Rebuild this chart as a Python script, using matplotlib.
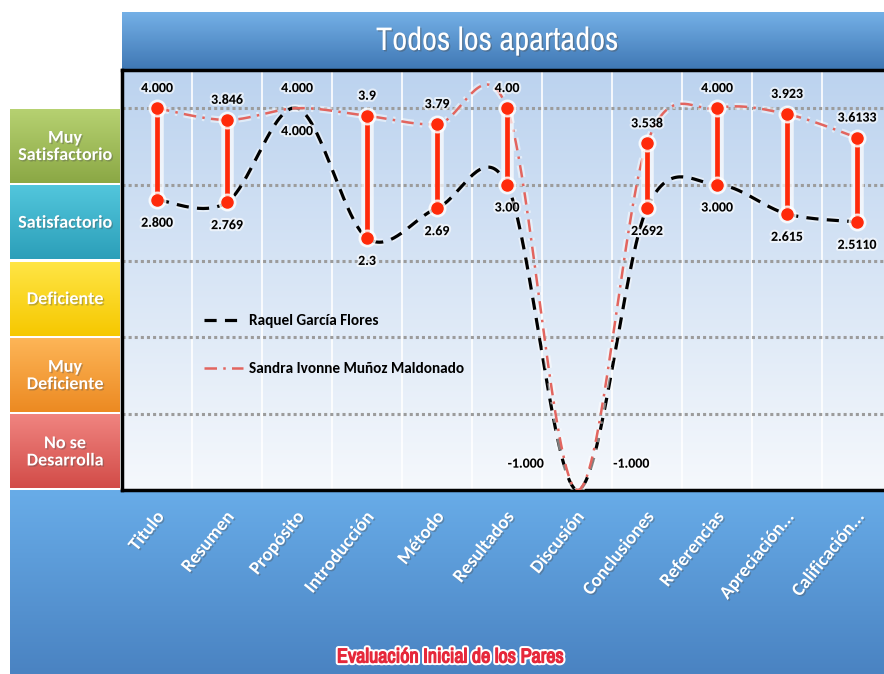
import matplotlib
matplotlib.use("Agg")
import matplotlib.pyplot as plt
import matplotlib.patheffects as pe
from matplotlib.lines import Line2D
from matplotlib import font_manager as fm
import numpy as np

# ---- data ----
categories = ["Titulo", "Resumen", "Propósito", "Introducción", "Método",
              "Resultados", "Discusión", "Conclusiones", "Referencias",
              "Apreciación...", "Calificación..."]
sandra_txt = ["4.000", "3.846", "4.000", "3.9", "3.79", "4.00", "-1.000",
              "3.538", "4.000", "3.923", "3.6133"]
raquel_txt = ["2.800", "2.769", "4.000", "2.3", "2.69", "3.00", "-1.000",
              "2.692", "3.000", "2.615", "2.5110"]
sandra = [float(s) for s in sandra_txt]
raquel = [float(s) for s in raquel_txt]
levels = ["No se\nDesarrolla", "Muy\nDeficiente", "Deficiente",
          "Satisfactorio", "Muy\nSatisfactorio"]
level_colors = [("#F08480", "#D24C48"), ("#FDB557", "#EC8A22"),
                ("#FFE545", "#F6C800"), ("#52C6DC", "#2C9FB9"),
                ("#B6D171", "#8BA845")]

W, H = 884, 674

avail = {f.name for f in fm.fontManager.ttflist}


def pick(cands):
    return [c for c in cands if c in avail][:1] + ["DejaVu Sans"]


CAL = pick(["Carlito", "PT Sans Narrow", "Roboto Condensed", "Liberation Sans"])
NARROW = pick(["Archivo Narrow", "PT Sans Narrow", "Roboto Condensed",
               "Liberation Sans"])


def smooth(xs, ys, n=40):
    # excel-like smoothed line (bezier through the points)
    p = np.column_stack([xs, ys]).astype(float)
    out = []
    for i in range(len(p) - 1):
        p0 = p[i - 1] if i > 0 else p[i]
        p1, p2 = p[i], p[i + 1]
        p3 = p[i + 2] if i + 2 < len(p) else p[i + 1]
        c1 = p1 + (p2 - p0) / 6
        c2 = p2 - (p3 - p1) / 6
        t = np.linspace(0, 1, n)[:, None]
        seg = ((1 - t) ** 3 * p1 + 3 * (1 - t) ** 2 * t * c1
               + 3 * (1 - t) * t ** 2 * c2 + t ** 3 * p2)
        out.append(seg if i == 0 else seg[1:])
    out = np.vstack(out)
    return out[:, 0], out[:, 1]


def vgrad(ax, extent, top, bottom, zorder=0, n=64):
    c1 = np.array(matplotlib.colors.to_rgb(top))
    c2 = np.array(matplotlib.colors.to_rgb(bottom))
    t = np.linspace(0, 1, n)[:, None, None]
    img = c1 * (1 - t) + c2 * t
    ax.imshow(img, extent=extent, origin="upper", aspect="auto",
              zorder=zorder, interpolation="bilinear")


fig = plt.figure(figsize=(W / 100, H / 100), dpi=100)

# background decorations in pixel coordinates
bg = fig.add_axes([0, 0, 1, 1], zorder=0)
bg.set_xlim(0, W)
bg.set_ylim(H, 0)
vgrad(bg, (10, W, H, 490), "#68ACE8", "#4A83C2")
vgrad(bg, (122, W, 70, 12), "#74B0E6", "#3F77B4")
bg.set_xlim(0, W)
bg.set_ylim(H, 0)
bg.axis("off")

bg.text(497, 41, "Todos los apartados", color="white", fontsize=23.5,
        family=NARROW, ha="center", va="center",
        path_effects=[pe.withSimplePatchShadow(offset=(1, -1), alpha=0.4)])
bg.text(450, 657, "Evaluación Inicial de los Pares", color="#E6283A",
        fontsize=14.5, fontweight="bold", family=NARROW, ha="center",
        va="center",
        path_effects=[pe.Stroke(linewidth=3.8, foreground="white"),
                      pe.Stroke(linewidth=0.9, foreground="#E6283A"),
                      pe.Normal()])

# main plot
ax = fig.add_axes([122 / W, (H - 490) / H, 770 / W, 420 / H], zorder=2)
ax.set_xlim(-0.5, len(categories) - 0.5)
ax.set_ylim(-1, 4.5)
vgrad(ax, (-0.5, len(categories) - 0.5, -1, 4.5), "#BCD3EF", "#F5F8FC")
ax.set_xlim(-0.5, len(categories) - 0.5)
ax.set_ylim(-1, 4.5)

for k in range(len(categories) + 1):
    ax.axvline(k - 0.5, color="white", lw=1.2, zorder=1)
for v in [0, 1, 2, 3, 4]:
    ax.axhline(v, color="#9C9C9C", lw=2.2, ls=(0, (1, 1)), zorder=1)

xs = np.arange(len(categories))
glow = [pe.Stroke(linewidth=5, foreground="white", alpha=0.5), pe.Normal()]
black_ls = (0, (3.8, 2.6))
red_ls = (0, (5, 2.5, 1, 2.5))
bx, by = smooth(xs, raquel)
ax.plot(bx, by, color="black", lw=2.3, ls=black_ls, zorder=3,
        path_effects=glow)
sx, sy = smooth(xs, sandra)
ax.plot(sx, sy, color="#E2655F", lw=1.8, ls=red_ls, zorder=3,
        path_effects=glow)

# high-low bars with end markers
for i in range(len(categories)):
    hi, lo = max(sandra[i], raquel[i]), min(sandra[i], raquel[i])
    if hi > lo:
        ax.plot([i, i], [lo, hi], color="white", lw=9, alpha=0.7,
                solid_capstyle="round", zorder=4)
        ax.plot([i, i], [lo, hi], color="#FF2A0A", lw=3.4, zorder=5)
        ax.plot([i, i], [lo, hi], "o", ms=12, color="white", alpha=0.75,
                zorder=5)
        ax.plot([i, i], [lo, hi], "o", ms=8, color="#FF2A0A", zorder=6)

# data labels
lab_fx = [pe.withStroke(linewidth=3, foreground="white", alpha=0.6)]
lab_kw = dict(textcoords="offset points", ha="center", va="center",
              fontsize=10, fontweight="bold", family=CAL, zorder=7,
              path_effects=lab_fx)
for i in range(len(categories)):
    if sandra[i] <= -1 and raquel[i] <= -1:
        ax.annotate(sandra_txt[i], (i, sandra[i]), xytext=(-37, 19), **lab_kw)
        ax.annotate(raquel_txt[i], (i, raquel[i]), xytext=(39, 19), **lab_kw)
        continue
    ax.annotate(sandra_txt[i], (i, sandra[i]), xytext=(0, 14.5), **lab_kw)
    ax.annotate(raquel_txt[i], (i, raquel[i]), xytext=(0, -16.5), **lab_kw)

ax.set_xticks(xs)
ax.set_xticklabels([])
ax.set_yticks([])
ax.tick_params(length=0)
for side in ["left", "top", "bottom"]:
    ax.spines[side].set_linewidth(2.5)
    ax.spines[side].set_color("black")
ax.spines["right"].set_visible(False)

# category labels on the blue band
for i, name in enumerate(categories):
    ax.annotate(name, (i, -1), xytext=(3, -17), textcoords="offset points",
                rotation=51, rotation_mode="anchor", ha="right", va="center",
                color="white", fontsize=13.5, fontweight="bold",
                family=CAL, annotation_clip=False, zorder=8,
                path_effects=[pe.withSimplePatchShadow(offset=(1, -1),
                                                       alpha=0.35)])

handles = [Line2D([], [], color="black", lw=2.3, ls=black_ls),
           Line2D([], [], color="#E2655F", lw=1.8, ls=red_ls)]
leg = ax.legend(handles, ["Raquel García Flores",
                          "Sandra Ivonne Muñoz Maldonado"],
                loc="center left", bbox_to_anchor=(0.088, 0.345),
                frameon=False, labelspacing=2.2, handlelength=2.6,
                handletextpad=0.35,
                prop={"family": CAL, "weight": "bold", "size": 11})

# level boxes on the left, aligned with the value bands
lx = fig.add_axes([10 / W, (H - 490) / H, 110 / W, 420 / H], zorder=1)
lx.set_xlim(0, 1)
lx.set_ylim(-1, 4.5)
for k, (name, (c_top, c_bot)) in enumerate(zip(levels, level_colors)):
    y0 = k - 1
    vgrad(lx, (0.0, 1.0, y0 + 0.02, y0 + 0.98), c_top, c_bot, zorder=1)
    lx.text(0.5, y0 + 0.5, name, color="white", fontsize=13,
            fontweight="bold", family=CAL, ha="center", va="center",
            linespacing=1.1, zorder=3,
            path_effects=[pe.withSimplePatchShadow(offset=(1, -1),
                                                   alpha=0.35)])
lx.set_xlim(0, 1)
lx.set_ylim(-1, 4.5)
lx.axis("off")

fig.savefig("out.png", dpi=100)
